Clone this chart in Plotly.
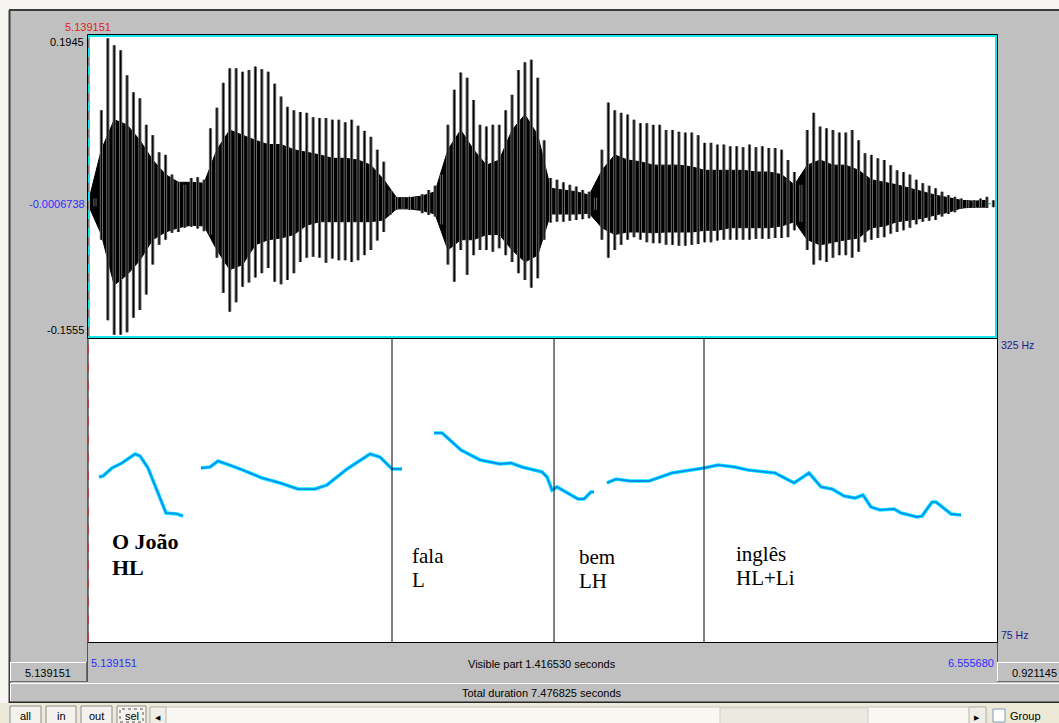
import plotly.graph_objects as go

W, H = 1059, 723

# ---- visible window -------------------------------------------------------
t_start, t_end = 5.139151, 6.555680
total_duration = 7.476825
visible_part = 1.416530
amp_top, amp_bottom, amp_cursor = 0.1945, -0.1555, -0.0006738
f0_floor, f0_ceiling = 75, 325

# ---- waveform: peak envelope every 10 ms ----------------------------------
wave_t = [5.14, 5.15, 5.16, 5.17, 5.18, 5.19, 5.20, 5.21, 5.22, 5.23,
          5.24, 5.25, 5.26, 5.27, 5.28, 5.29, 5.30, 5.31, 5.32, 5.33,
          5.34, 5.35, 5.36, 5.37, 5.38, 5.39, 5.40, 5.41, 5.42, 5.43,
          5.44, 5.45, 5.46, 5.47, 5.48, 5.49, 5.50, 5.51, 5.52, 5.53,
          5.54, 5.55, 5.56, 5.57, 5.58, 5.59, 5.60, 5.61, 5.62, 5.63,
          5.64, 5.65, 5.66, 5.67, 5.68, 5.69, 5.70, 5.71, 5.72, 5.73,
          5.74, 5.75, 5.76, 5.77, 5.78, 5.79, 5.80, 5.81, 5.82, 5.83,
          5.84, 5.85, 5.86, 5.87, 5.88, 5.89, 5.90, 5.91, 5.92, 5.93,
          5.94, 5.95, 5.96, 5.97, 5.98, 5.99, 6.00, 6.01, 6.02, 6.03,
          6.04, 6.05, 6.06, 6.07, 6.08, 6.09, 6.10, 6.11, 6.12, 6.13,
          6.14, 6.15, 6.16, 6.17, 6.18, 6.19, 6.20, 6.21, 6.22, 6.23,
          6.24, 6.25, 6.26, 6.27, 6.28, 6.29, 6.30, 6.31, 6.32, 6.33,
          6.34, 6.35, 6.36, 6.37, 6.38, 6.39, 6.40, 6.41, 6.42, 6.43,
          6.44, 6.45, 6.46, 6.47, 6.48, 6.49, 6.50, 6.51, 6.52, 6.53,
          6.54, 6.55]
wave_max = [0.003, 0.006, 0.109, 0.193, 0.185, 0.179, 0.150, 0.130, 0.123, 0.092,
            0.080, 0.060, 0.057, 0.034, 0.025, 0.022, 0.030, 0.031, 0.028, 0.088,
            0.112, 0.141, 0.158, 0.158, 0.154, 0.156, 0.160, 0.157, 0.154, 0.140,
            0.125, 0.113, 0.109, 0.107, 0.106, 0.101, 0.100, 0.100, 0.098, 0.098,
            0.095, 0.098, 0.091, 0.085, 0.078, 0.063, 0.049, 0.016, 0.008, 0.007,
            0.008, 0.008, 0.011, 0.016, 0.021, 0.034, 0.092, 0.133, 0.153, 0.147,
            0.121, 0.092, 0.090, 0.092, 0.092, 0.109, 0.127, 0.156, 0.165, 0.168,
            0.147, 0.074, 0.030, 0.028, 0.025, 0.022, 0.020, 0.016, 0.014, 0.007,
            0.063, 0.118, 0.109, 0.106, 0.104, 0.098, 0.094, 0.094, 0.092, 0.092,
            0.086, 0.086, 0.084, 0.083, 0.083, 0.080, 0.071, 0.071, 0.069, 0.069,
            0.067, 0.067, 0.066, 0.069, 0.066, 0.067, 0.065, 0.065, 0.063, 0.051,
            0.037, 0.022, 0.086, 0.106, 0.090, 0.088, 0.086, 0.083, 0.083, 0.086,
            0.074, 0.059, 0.057, 0.053, 0.051, 0.045, 0.039, 0.037, 0.034, 0.028,
            0.024, 0.021, 0.018, 0.014, 0.010, 0.008, 0.006, 0.004, 0.004, 0.006,
            0.008, 0.004]
wave_min = [-0.002, -0.003, -0.042, -0.136, -0.153, -0.153, -0.150, -0.133, -0.124, -0.106,
            -0.071, -0.048, -0.042, -0.034, -0.033, -0.028, -0.027, -0.029, -0.032, -0.036,
            -0.063, -0.104, -0.126, -0.115, -0.097, -0.092, -0.086, -0.081, -0.075, -0.091,
            -0.094, -0.089, -0.081, -0.068, -0.063, -0.062, -0.063, -0.069, -0.064, -0.066,
            -0.066, -0.068, -0.066, -0.060, -0.054, -0.043, -0.033, -0.013, -0.007, -0.006,
            -0.007, -0.006, -0.011, -0.013, -0.015, -0.024, -0.071, -0.091, -0.054, -0.083,
            -0.060, -0.054, -0.054, -0.056, -0.052, -0.060, -0.068, -0.081, -0.089, -0.098,
            -0.087, -0.042, -0.022, -0.021, -0.021, -0.020, -0.019, -0.018, -0.017, -0.007,
            -0.042, -0.063, -0.054, -0.048, -0.042, -0.039, -0.042, -0.045, -0.046, -0.046,
            -0.048, -0.048, -0.049, -0.049, -0.048, -0.047, -0.045, -0.045, -0.043, -0.042,
            -0.042, -0.042, -0.042, -0.042, -0.041, -0.041, -0.041, -0.040, -0.040, -0.039,
            -0.031, -0.021, -0.054, -0.071, -0.066, -0.068, -0.063, -0.060, -0.060, -0.063,
            -0.056, -0.045, -0.042, -0.040, -0.039, -0.035, -0.033, -0.031, -0.028, -0.024,
            -0.021, -0.020, -0.019, -0.015, -0.012, -0.010, -0.006, -0.005, -0.005, -0.004,
            -0.005, -0.004]

# dense inner band of the waveform, every 20 ms
core_t = [5.14, 5.16, 5.18, 5.20, 5.22, 5.24, 5.26, 5.28, 5.30, 5.32,
          5.34, 5.36, 5.38, 5.40, 5.42, 5.44, 5.46, 5.48, 5.50, 5.52,
          5.54, 5.56, 5.58, 5.60, 5.62, 5.64, 5.66, 5.68, 5.70, 5.72,
          5.74, 5.76, 5.78, 5.80, 5.82, 5.84, 5.86, 5.88, 5.90, 5.92,
          5.94, 5.96, 5.98, 6.00, 6.02, 6.04, 6.06, 6.08, 6.10, 6.12,
          6.14, 6.16, 6.18, 6.20, 6.22, 6.24, 6.26, 6.28, 6.30, 6.32,
          6.34, 6.36, 6.38, 6.40, 6.42, 6.44, 6.46, 6.48, 6.50, 6.52,
          6.54]
core_max = [0.003, 0.063, 0.098, 0.092, 0.074, 0.051, 0.034, 0.025, 0.025, 0.024,
            0.063, 0.086, 0.080, 0.074, 0.069, 0.069, 0.063, 0.060, 0.057, 0.053,
            0.053, 0.051, 0.045, 0.028, 0.007, 0.007, 0.009, 0.014, 0.063, 0.086,
            0.063, 0.045, 0.051, 0.086, 0.104, 0.080, 0.018, 0.016, 0.014, 0.010,
            0.039, 0.057, 0.051, 0.049, 0.045, 0.045, 0.045, 0.043, 0.039, 0.039,
            0.039, 0.039, 0.037, 0.037, 0.034, 0.022, 0.045, 0.051, 0.045, 0.045,
            0.039, 0.028, 0.025, 0.022, 0.018, 0.014, 0.010, 0.007, 0.004, 0.003,
            0.004]
core_min = [-0.002, -0.036, -0.095, -0.083, -0.066, -0.042, -0.033, -0.028, -0.025, -0.026,
            -0.054, -0.077, -0.071, -0.048, -0.042, -0.040, -0.036, -0.025, -0.021, -0.021,
            -0.021, -0.021, -0.021, -0.019, -0.006, -0.006, -0.008, -0.012, -0.054, -0.042,
            -0.042, -0.036, -0.036, -0.054, -0.068, -0.060, -0.012, -0.012, -0.012, -0.011,
            -0.028, -0.036, -0.033, -0.033, -0.034, -0.033, -0.033, -0.033, -0.031, -0.031,
            -0.028, -0.028, -0.028, -0.028, -0.026, -0.021, -0.042, -0.048, -0.045, -0.042,
            -0.040, -0.028, -0.026, -0.021, -0.019, -0.017, -0.013, -0.010, -0.005, -0.004,
            -0.004]

# ---- pitch contour (Hz); None separates voiced stretches -------------------
pitch_t = [5.1563, 5.1625, 5.1766, 5.1921, 5.2124, 5.2202, 5.2327, 5.2607, 5.2778, 5.2872, None,
           5.3152, 5.3293, 5.3418, 5.3558, 5.3807, 5.4103, 5.4384, 5.4664, 5.4929, 5.5116,
           5.5428, 5.5786, 5.5942, 5.6129, 5.6285, None,
           5.6784, 5.6909, 5.7204, 5.7500, 5.7812, 5.7984, 5.8155, 5.8467, 5.8545, 5.8622,
           5.8700, 5.9028, 5.9121, 5.9230, 5.9277, None,
           5.9479, 5.9620, 5.9838, 6.0134, 6.0492, 6.0789, 6.0991, 6.1209, 6.1474, 6.1677,
           6.2097, 6.2394, 6.2627, 6.2814, 6.2986, 6.3173, 6.3344, 6.3469, 6.3593, 6.3734,
           6.3952, 6.4061, 6.4311, 6.4388, 6.4545, 6.4607, 6.4840, 6.4997]
pitch_hz = [210.7, 211.5, 218.1, 222.2, 229.6, 228.0, 218.1, 181.1, 180.3, 178.6, None,
            218.1, 218.9, 223.8, 221.4, 216.4, 209.9, 205.8, 200.8, 200.8, 204.1,
            217.3, 229.6, 227.1, 217.3, 217.3, None,
            246.9, 246.9, 232.9, 224.7, 221.4, 222.2, 218.9, 214.8, 210.7, 200.0,
            202.5, 192.6, 192.6, 198.4, 198.4, None,
            205.8, 209.0, 207.4, 207.4, 214.0, 216.4, 218.1, 220.6, 218.9, 216.4,
            214.0, 205.8, 214.0, 202.5, 200.8, 195.1, 193.4, 195.9, 186.0, 183.6,
            184.4, 181.1, 177.8, 178.6, 190.1, 190.1, 180.3, 179.4]

# ---- annotation tier --------------------------------------------------------
boundary_t = [5.6129, 5.8654, 6.0991]
words = ["O João", "fala", "bem", "inglês"]
tones = ["HL", "L", "LH", "HL+Li"]
word_t = [5.174, 5.641, 5.901, 6.146]


def px(x):
    return x / W


def py(y):
    return 1 - y / H


UI_FONT = "Liberation Sans"
SERIF = "Liberation Serif"

fig = go.Figure()

# waveform: dense band + individual periods
fig.add_trace(go.Scatter(
    x=core_t + core_t[::-1], y=core_max + core_min[::-1],
    fill="toself", fillcolor="#000000", mode="lines",
    line=dict(color="#000000", width=1), hoverinfo="skip",
    xaxis="x", yaxis="y"))

spike_x, spike_y = [], []
for t, hi, lo in zip(wave_t, wave_max, wave_min):
    spike_x += [t, t, None]
    spike_y += [lo, hi, None]
fig.add_trace(go.Scatter(
    x=spike_x, y=spike_y, mode="lines",
    line=dict(color="#6a6a6a", width=3.2), hoverinfo="skip",
    xaxis="x", yaxis="y"))
fig.add_trace(go.Scatter(
    x=spike_x, y=spike_y, mode="lines",
    line=dict(color="#000000", width=1.2), hoverinfo="skip",
    xaxis="x", yaxis="y"))

# pitch contour: cyan halo under a blue stroke
fig.add_trace(go.Scatter(
    x=pitch_t, y=pitch_hz, mode="lines", connectgaps=False,
    line=dict(color="#00eaff", width=3.6), hoverinfo="skip",
    xaxis="x", yaxis="y2"))
fig.add_trace(go.Scatter(
    x=pitch_t, y=pitch_hz, mode="lines", connectgaps=False,
    line=dict(color="#0b8cf2", width=1.8), hoverinfo="skip",
    xaxis="x", yaxis="y2"))

shapes = []


def rect(x0, y0, x1, y1, fill=None, line=None, lw=1, layer="below", dash=None):
    s = dict(type="rect", xref="paper", yref="paper",
             x0=px(x0), x1=px(x1), y0=py(y1), y1=py(y0), layer=layer,
             line=dict(width=lw if line else 0, color=line or "rgba(0,0,0,0)"))
    if dash:
        s["line"]["dash"] = dash
    if fill:
        s["fillcolor"] = fill
    shapes.append(s)


def hline(x0, x1, y, color, lw=1, layer="above"):
    shapes.append(dict(type="line", xref="paper", yref="paper",
                       x0=px(x0), x1=px(x1), y0=py(y), y1=py(y),
                       line=dict(color=color, width=lw), layer=layer))


def vline(x, y0, y1, color, lw=1, layer="above", dash=None):
    ln = dict(color=color, width=lw)
    if dash:
        ln["dash"] = dash
    shapes.append(dict(type="line", xref="paper", yref="paper",
                       x0=px(x), x1=px(x), y0=py(y0), y1=py(y1),
                       line=ln, layer=layer))


def raised(x0, y0, x1, y1):
    hline(x0, x1, y0 + 0.5, "#ffffff")
    vline(x0 + 0.5, y0, y1, "#ffffff")
    hline(x0, x1, y1 - 0.5, "#6e6e6e")
    vline(x1 - 0.5, y0, y1, "#6e6e6e")


# window chrome
rect(0, 0, W, 9.5, fill="#f6f5f1")
rect(0, 0, 9, 703, fill="#f6f5f1")
hline(9, W, 10, "#3c3c3c", lw=2)
vline(9.5, 10, 703, "#3c3c3c", lw=2)
rect(0, 703, W, H, fill="#ece9d8")
hline(9, W, 702, "#2a2a2a", lw=2)

# drawing areas
rect(88, 35, 997, 338, fill="#ffffff")
rect(88, 338, 997, 642, fill="#ffffff")

# zero line of the waveform, drawn under the signal
shapes.append(dict(type="line", xref="x", yref="y", x0=t_start, x1=t_end, y0=0, y1=0,
                   line=dict(color="#2aa0a0", width=1, dash="dot"), layer="below"))

# status rows
raised(10, 662, 87, 682)
raised(997, 662, W + 2, 682)
raised(10, 683, W + 2, 702)
vline(87.5, 642, 682, "#555555")
vline(997.5, 642, 662, "#555555")

# tier boundaries
for bt in boundary_t:
    shapes.append(dict(type="line", xref="x", yref="y2", x0=bt, x1=bt,
                       y0=f0_floor, y1=f0_ceiling,
                       line=dict(color="#000000", width=1), layer="above"))

# panel frames
rect(88, 338, 997.5, 642.5, line="#000000", lw=1, layer="above")
rect(87.5, 34.5, 997.5, 338.5, line="#000000", lw=1, layer="above")
rect(89, 36, 996, 337, line="#19e3e8", lw=2, layer="above")

# cursor at the start of the visible part
shapes.append(dict(type="line", xref="x", yref="paper", x0=t_start, x1=t_start,
                   y0=py(642), y1=py(35), line=dict(color="#e01010", width=1, dash="dash"),
                   layer="above"))

# toolbar buttons
buttons = [("all", 10, 41), ("in", 46, 76), ("out", 81, 112), ("sel", 117, 146)]
for _, b0, b1 in buttons:
    rect(b0, 706, b1, 724, fill="#f3f2ec", line="#8c8c8c", lw=1, layer="above")
rect(120, 709, 143, 722, line="#555555", lw=1, layer="above", dash="dot")
rect(150, 707, 986, 724, fill="#f8f7f2", line="#c9c7bb", lw=1, layer="above")
rect(150, 707, 166, 724, fill="#efeee7", line="#b8b6aa", lw=1, layer="above")
rect(969, 707, 986, 724, fill="#efeee7", line="#b8b6aa", lw=1, layer="above")
rect(720, 708, 868, 724, fill="#eceae0", line="#d0cec2", lw=1, layer="above")
rect(993, 709, 1005, 722, fill="#ffffff", line="#7f9db9", lw=1, layer="above")

ann = []


def text(x, y, s, color="#000000", size=11, anchor="left", font=UI_FONT, xref="paper", **kw):
    ann.append(dict(x=px(x) if xref == "paper" else x, y=py(y), xref=xref, yref="paper",
                    text=s, showarrow=False, xanchor=anchor, yanchor="middle",
                    font=dict(family=font, size=size, color=color), **kw))


text(88, 27, f"{t_start:.6f}", color="#e02020", anchor="center")
text(86, 42, f"{amp_top:.4f}", anchor="right")
text(87, 204, f"{amp_cursor:.7f}", color="#2d2dff", anchor="right")
text(86, 330, f"{amp_bottom:.4f}", anchor="right")
text(999, 345, f"{f0_ceiling} Hz", color="#1c1c8c", anchor="left", size=10.5)
text(999, 635, f"{f0_floor} Hz", color="#1c1c8c", anchor="left", size=10.5)
text(89, 663, f"{t_start:.6f}", color="#2d2dff", anchor="left", size=11)
text(996, 663, f"{t_end:.6f}", color="#2d2dff", anchor="right", size=11)
text(542, 664, f"Visible part {visible_part:.6f} seconds", anchor="center", size=11)
text(542, 693, f"Total duration {total_duration:.6f} seconds", anchor="center", size=11)
text(48, 673, f"{t_start:.6f}", anchor="center")
text(1034, 673, f"{total_duration - t_end:.6f}", anchor="center")

for label, b0, b1 in buttons:
    text((b0 + b1) / 2, 716, label, anchor="center", size=11)
text(158, 717, "◀", anchor="center", size=7)
text(977, 717, "▶", anchor="center", size=7)
text(1008, 716, "Group", anchor="left", size=11)

# word / tone labels of the tier
word_y = [541, 556, 557, 554]
tone_y = [567, 580, 581, 578]
for i, (w, tn, t) in enumerate(zip(words, tones, word_t)):
    bold = i == 0
    ww = f"<b>{w}</b>" if bold else w
    tt = f"<b>{tn}</b>" if bold else tn
    size = 22 if bold else 21
    text(t, word_y[i], ww, size=size, font=SERIF, xref="x")
    text(t, tone_y[i], tt, size=size, font=SERIF, xref="x")

fig.update_layout(
    width=W, height=H, margin=dict(l=0, r=0, t=0, b=0),
    paper_bgcolor="#c0c0c0", plot_bgcolor="rgba(0,0,0,0)",
    showlegend=False, shapes=shapes, annotations=ann,
    xaxis=dict(domain=[px(88), px(997)], range=[t_start, t_end], visible=False,
               anchor="y", fixedrange=True),
    yaxis=dict(domain=[py(337), py(37)], range=[amp_bottom, amp_top], visible=False,
               anchor="x", fixedrange=True),
    yaxis2=dict(domain=[py(642), py(338)], range=[f0_floor, f0_ceiling], visible=False,
                anchor="x", fixedrange=True),
)

fig.write_html("out.html", config=dict(displayModeBar=False))
